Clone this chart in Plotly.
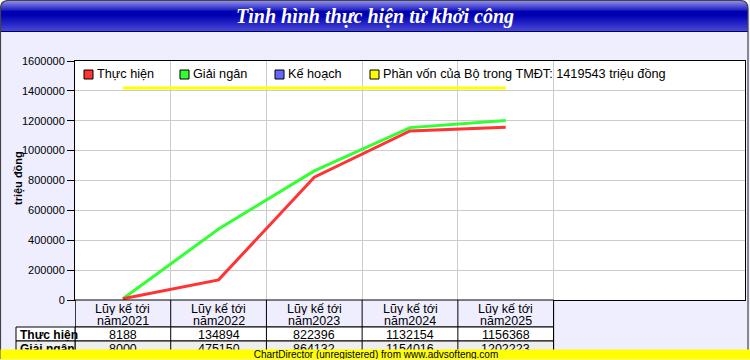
import plotly.graph_objects as go

# ---------------- data ----------------
title_text = "Tình hình thực hiện từ khởi công"
cat_line1 = ["Lũy kế tới", "Lũy kế tới", "Lũy kế tới", "Lũy kế tới", "Lũy kế tới"]
cat_line2 = ["năm2021", "năm2022", "năm2023", "năm2024", "năm2025"]
thuc_hien = [8188, 134894, 822396, 1132154, 1156368]
giai_ngan = [8000, 475150, 864132, 1154016, 1202223]
ke_hoach = []  # no values shown
tmdt_value = 1419543
series_names = ["Thực hiện", "Giải ngân", "Kế hoạch",
                "Phần vốn của Bộ trong TMĐT: 1419543 triệu đồng"]
series_colors = ["#FF3333", "#33FF33", "#6666FF", "#FFFF00"]
y_title = "triệu đồng"
y_max = 1600000
y_step = 200000

# ---------------- geometry ----------------
W, H = 750, 360
L, R, T, B = 75, 745, 61, 300
FONT = "Arial, Liberation Sans, sans-serif"


def px(x):
    return (x - L) / (R - L)


def py(y):
    return (B - y) / (B - T)


n = len(cat_line2)
x_idx = list(range(n))
fig = go.Figure()

fig.add_trace(go.Scatter(x=x_idx, y=[tmdt_value] * n, mode="lines",
                         line=dict(color=series_colors[3], width=3), showlegend=False,
                         hoverinfo="skip"))
fig.add_trace(go.Scatter(x=x_idx, y=giai_ngan, mode="lines",
                         line=dict(color=series_colors[1], width=3), showlegend=False))
fig.add_trace(go.Scatter(x=x_idx, y=thuc_hien, mode="lines",
                         line=dict(color=series_colors[0], width=3), showlegend=False))

shapes = []
annotations = []


def lerp(c1, c2, t):
    a = [int(c1[i:i + 2], 16) for i in (1, 3, 5)]
    b = [int(c2[i:i + 2], 16) for i in (1, 3, 5)]
    return "#%02x%02x%02x" % tuple(int(round(a[k] + (b[k] - a[k]) * t)) for k in range(3))


stops = [(1, "#8888E8"), (3, "#7070E0"), (9, "#2828C4"), (11, "#0000B0"),
         (15, "#0000B4"), (31, "#4A4AD8")]
for yy in range(1, 31):
    col = stops[-1][1]
    for (y0, c0), (y1, c1) in zip(stops[:-1], stops[1:]):
        if y0 <= yy <= y1:
            col = lerp(c0, c1, (yy - y0) / max(1, (y1 - y0)))
            break
    shapes.append(dict(type="rect", xref="paper", yref="paper",
                       x0=px(1), x1=px(748), y0=py(yy + 1), y1=py(yy),
                       fillcolor=col, line=dict(width=0), layer="below"))
# white corners outside the rounded border
r = 8
for (xa, xb, xc) in ((0, 0, r), (748, 748, 748 - r)):
    cpath = (f"M {px(xa)},{py(0)} L {px(xc)},{py(0)} "
             f"Q {px(xb)},{py(0)} {px(xb)},{py(r)} Z")
    shapes.append(dict(type="path", xref="paper", yref="paper", path=cpath,
                       fillcolor="white", line=dict(width=0)))
shapes.append(dict(type="line", xref="paper", yref="paper", x0=px(1), x1=px(748),
                   y0=py(31.5), y1=py(31.5), line=dict(color="#000060", width=1)))
path = (f"M {px(0.5)},{py(359)} L {px(0.5)},{py(0.5 + r)} "
        f"Q {px(0.5)},{py(0.5)} {px(0.5 + r)},{py(0.5)} "
        f"L {px(748 - r)},{py(0.5)} Q {px(748)},{py(0.5)} {px(748)},{py(0.5 + r)} "
        f"L {px(748)},{py(359)}")
shapes.append(dict(type="path", xref="paper", yref="paper", path=path,
                   line=dict(color="#444444", width=1.2)))

annotations.append(dict(xref="paper", yref="paper", x=px(375), y=py(16),
                        text="<b><i>" + title_text + "</i></b>",
                        showarrow=False, xanchor="center", yanchor="middle",
                        font=dict(family="Liberation Serif, Times New Roman, serif",
                                  size=20, color="white")))

# legend
leg_x = [84, 180, 275, 370]
for i, name in enumerate(series_names):
    shapes.append(dict(type="rect", xref="paper", yref="paper",
                       x0=px(leg_x[i]), x1=px(leg_x[i] + 9), y0=py(79), y1=py(70),
                       fillcolor=series_colors[i], line=dict(color="black", width=1)))
    annotations.append(dict(xref="paper", yref="paper", x=px(leg_x[i] + 11), y=py(74.5),
                            text=name, showarrow=False, xanchor="left", yanchor="middle",
                            font=dict(family=FONT, size=12.7, color="black")))

# y axis title
annotations.append(dict(xref="paper", yref="paper", x=px(18), y=py(178),
                        text="<b>" + y_title + "</b>",
                        textangle=-90, showarrow=False, xanchor="center", yanchor="middle",
                        font=dict(family=FONT, size=11, color="black")))

# table
shapes.append(dict(type="rect", xref="x", yref="paper", x0=-0.5, x1=n - 0.5,
                   y0=py(327), y1=py(300), fillcolor="#EEEEFF",
                   line=dict(color="black", width=1)))
row_tops = [327, 341]
row_fills = ["#FFFFFF", "#EEEEEE"]
row_names = ["Thực hiện", "Giải ngân"]
row_vals = [thuc_hien, giai_ngan]
for ri, top in enumerate(row_tops):
    shapes.append(dict(type="rect", xref="paper", yref="paper", x0=px(16), x1=px(L),
                       y0=py(top + 14), y1=py(top), fillcolor=row_fills[ri],
                       line=dict(color="black", width=1)))
    shapes.append(dict(type="rect", xref="x", yref="paper", x0=-0.5, x1=n - 0.5,
                       y0=py(top + 14), y1=py(top), fillcolor=row_fills[ri],
                       line=dict(color="black", width=1)))
    annotations.append(dict(xref="paper", yref="paper", x=px(18), y=py(top + 7.5),
                            text="<b>" + row_names[ri] + "</b>", showarrow=False,
                            xanchor="left", yanchor="middle", height=13,
                            font=dict(family=FONT, size=12, color="black")))
    for ci in range(n):
        annotations.append(dict(xref="x", yref="paper", x=ci, y=py(top + 7.5),
                                text=str(row_vals[ri][ci]), showarrow=False,
                                xanchor="center", yanchor="middle", height=13,
                                font=dict(family=FONT, size=12.5, color="black")))
for ci in range(n + 1):
    shapes.append(dict(type="line", xref="x", yref="paper", x0=ci - 0.5, x1=ci - 0.5,
                       y0=py(355), y1=py(300), line=dict(color="black", width=1)))
for ci in range(n):
    annotations.append(dict(xref="x", yref="paper", x=ci, y=py(308.5), text=cat_line1[ci],
                            showarrow=False, xanchor="center", yanchor="middle", height=12,
                            font=dict(family=FONT, size=12.5, color="black")))
    annotations.append(dict(xref="x", yref="paper", x=ci, y=py(321), text=cat_line2[ci],
                            showarrow=False, xanchor="center", yanchor="middle", height=12,
                            font=dict(family=FONT, size=12.5, color="black")))

# watermark bar
annotations.append(dict(xref="paper", yref="paper", x=px(0), y=py(360),
                        xanchor="left", yanchor="bottom", width=750, height=9,
                        bgcolor="#FFFF00", borderpad=0, showarrow=False,
                        text="ChartDirector (unregistered) from www.advsofteng.com",
                        font=dict(family=FONT, size=10, color="black")))

fig.update_layout(
    width=W, height=H,
    margin=dict(l=L, r=W - R, t=T, b=H - B, pad=0),
    paper_bgcolor="#EEEEFF", plot_bgcolor="white",
    showlegend=False,
    shapes=shapes, annotations=annotations,
    xaxis=dict(range=[-0.5, 6.5], tickvals=[i + 0.5 for i in range(n)],
               showticklabels=False, ticks="", showgrid=True, gridcolor="#CCCCCC",
               gridwidth=1, showline=True, linecolor="black", linewidth=1, mirror=True,
               zeroline=False, fixedrange=True),
    yaxis=dict(range=[0, y_max], dtick=y_step, tick0=0, tickformat="d",
               ticks="outside", ticklen=7, tickcolor="black",
               showgrid=True, gridcolor="#CCCCCC", gridwidth=1,
               showline=True, linecolor="black", linewidth=1, mirror=True,
               zeroline=False, tickfont=dict(family=FONT, size=11, color="black")),
    font=dict(family=FONT),
)

fig.write_html("out.html")
